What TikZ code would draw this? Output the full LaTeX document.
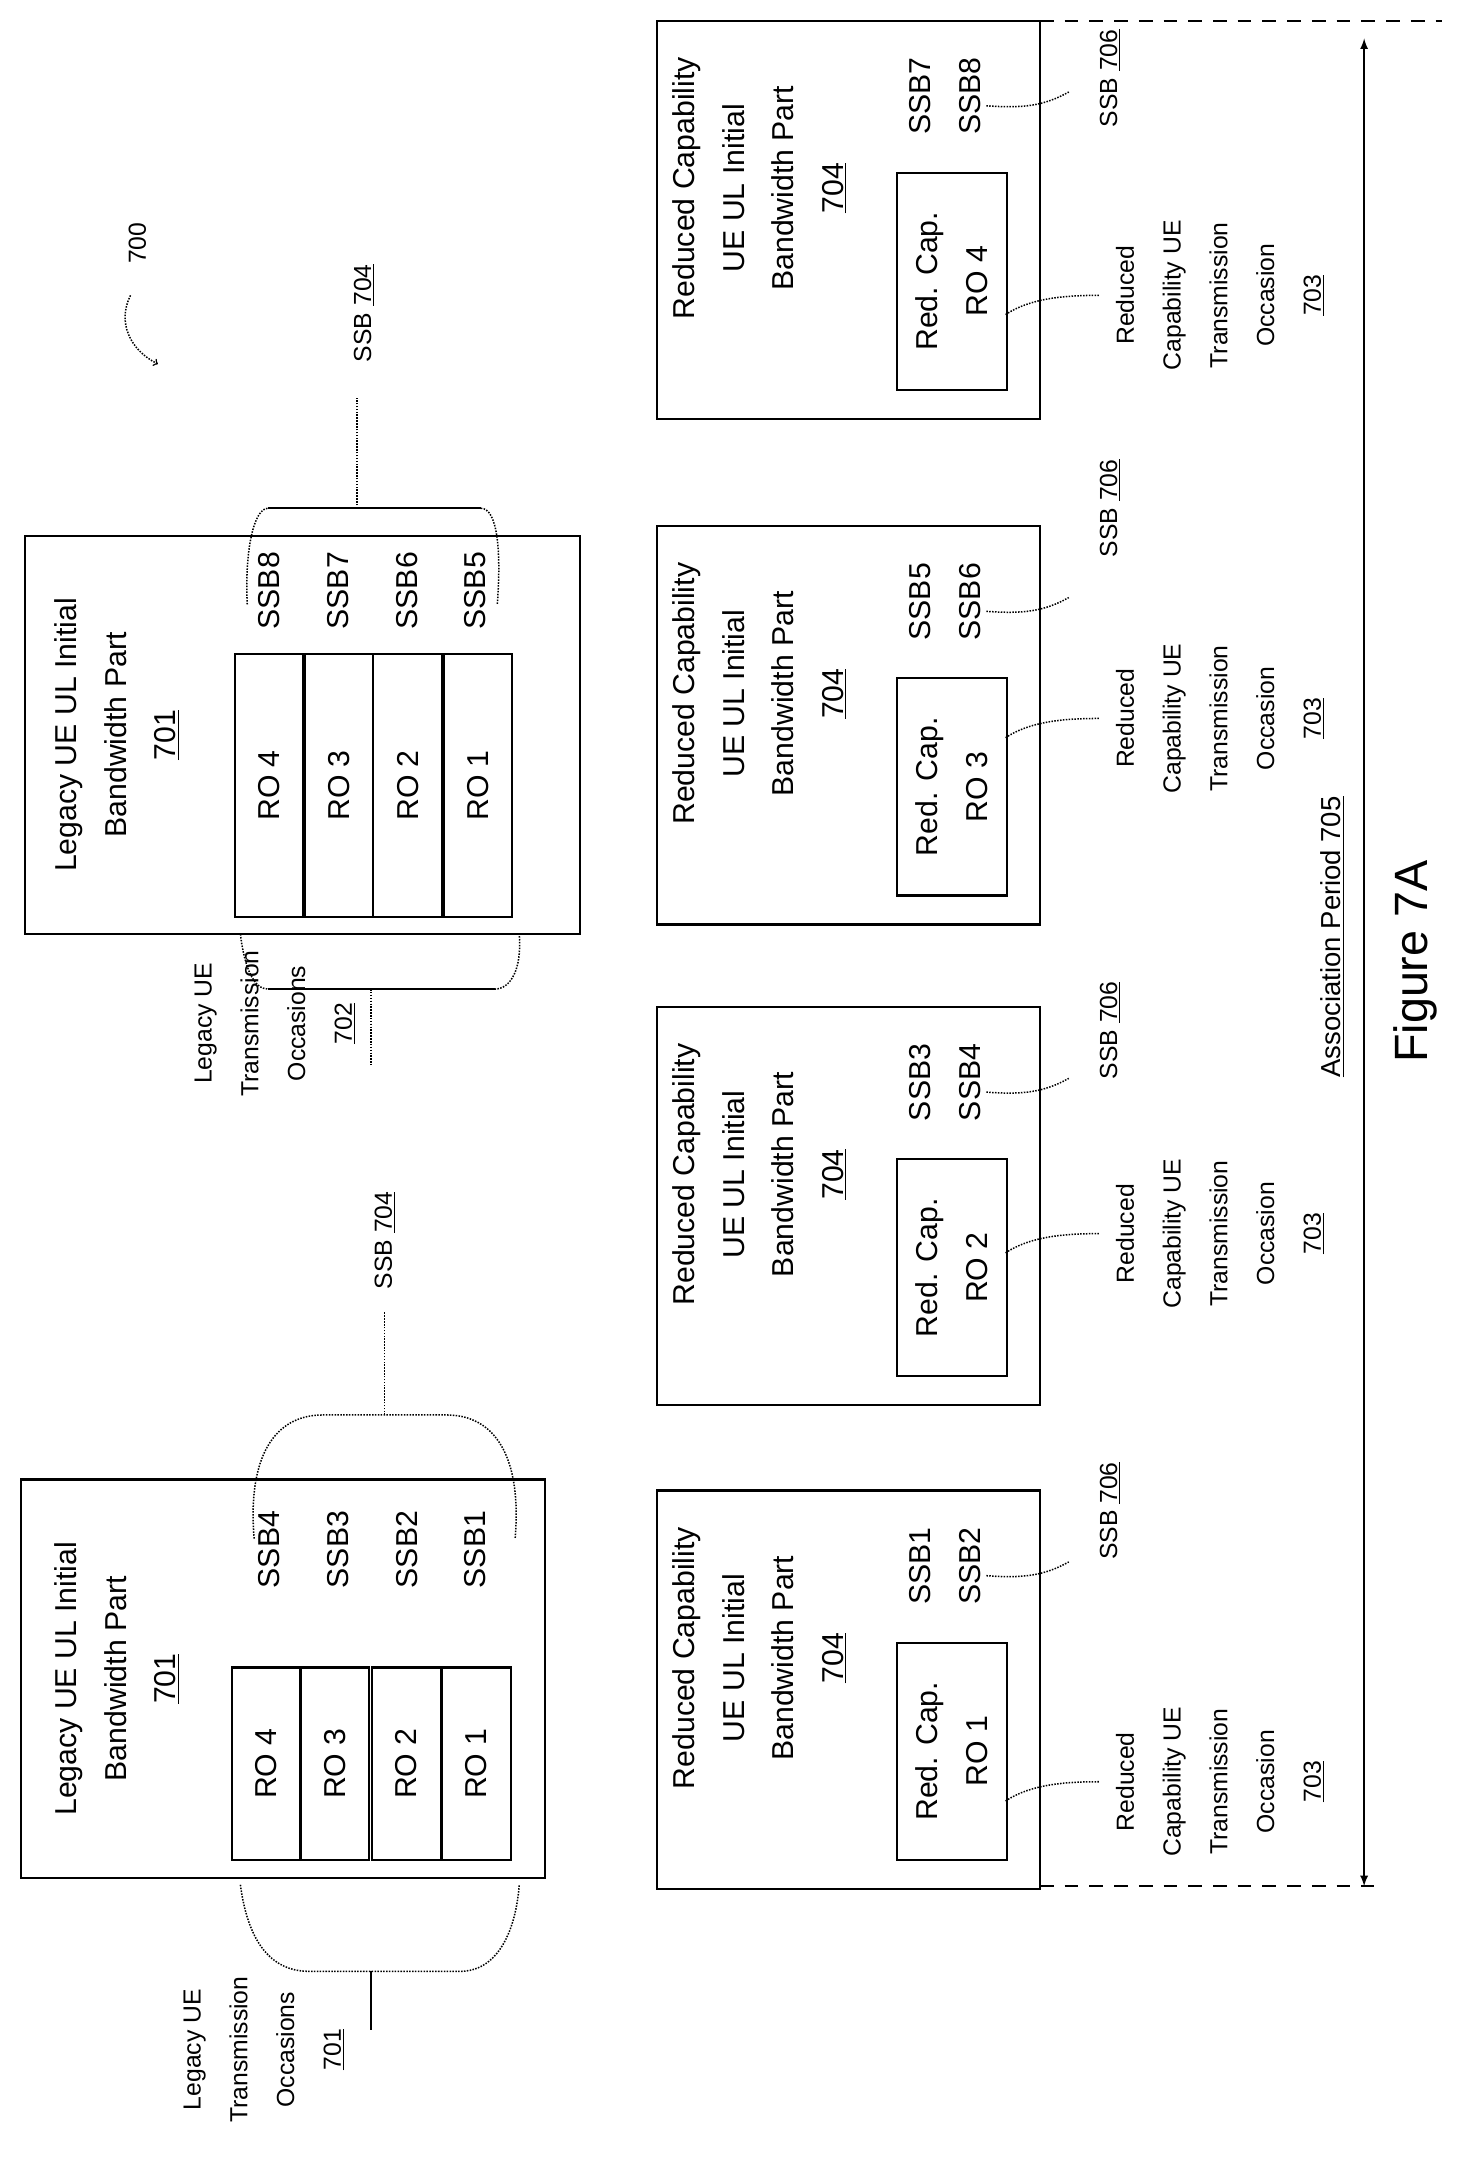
\documentclass[tikz,border=0pt]{standalone}
\usepackage{fontspec}
\setmainfont{Liberation Sans}
\begin{document}
\begin{tikzpicture}[x=1pt,y=-1pt,
  txt/.style={rotate=90,align=center,inner sep=0pt,font=\fontsize{22}{36}\selectfont},
  sml/.style={rotate=90,align=center,inner sep=0pt,font=\fontsize{18}{34}\selectfont},
  box/.style={draw,line width=1.6pt},
  ld/.style={densely dotted,line width=1.1pt},
  every node/.append style={text=black}]
\useasboundingbox (0,0) rectangle (1070,1576);
% Legacy box 1
\draw[box] (15,1077) rectangle (397,1367);
\node[txt] (L1t) at (85,1222) {Legacy UE UL Initial\\Bandwidth Part\\\underline{701}};
\foreach \i/\x/\n in {1/168/4,2/218/3,3/270/2,4/321/1}{
  \node[draw,line width=1.6pt,minimum width=50pt,minimum height=140pt,anchor=north west,inner sep=0pt] (L1r\i) at (\x,1213) {};
  \node[txt] at (L1r\i.center) {RO \n};}
\foreach \i/\x/\n in {1/196/4,2/246/3,3/296/2,4/346/1}
  \node[txt] (L1s\i) at (\x,1128) {SSB\n};
\draw[ld] (185,1120) .. controls (180,1060) and (200,1030) .. (235,1030) -- (325,1030) .. controls (360,1030) and (380,1060) .. (375,1120);
\coordinate (L1top) at (280,1030);
\node[sml] (L1ssb) at (280,903) {SSB \underline{704}};
\draw[ld] (L1top) -- (280,955);
\draw[ld] (175,1372) .. controls (180,1410) and (195,1435) .. (225,1435) -- (335,1435) .. controls (360,1435) and (375,1410) .. (378,1372);
\draw[line width=1.2pt] (270,1435) -- (270,1478);
\node[txt,font=\fontsize{18}{34}\selectfont] (L1o) at (192,1492) {Legacy UE\\Transmission\\Occasions\\\underline{701}};
% Legacy box 2
\draw[box] (18,390) rectangle (422,680);
\node[txt] (L2t) at (85,535) {Legacy UE UL Initial\\Bandwidth Part\\\underline{701}};
\foreach \i/\x/\n in {1/170/4,2/221/3,3/271/2,4/322/1}{
  \node[draw,line width=1.6pt,minimum width=50pt,minimum height=192pt,anchor=north west,inner sep=0pt] (L2r\i) at (\x,475) {};
  \node[txt] at (L2r\i.center) {RO \n};}
\foreach \i/\x/\n in {1/196/8,2/246/7,3/296/6,4/346/5}
  \node[txt] (L2s\i) at (\x,430) {SSB\n};
\draw[ld] (180,440) .. controls (178,400) and (185,370) .. (195,370);
\draw[line width=1.4pt] (195,370) -- (350,370);
\draw[ld] (350,370) .. controls (362,370) and (365,400) .. (362,440);
\draw[ld] (260,370) -- (260,290);
\node[sml] (L2ssb) at (265,228) {SSB \underline{704}};
\draw[ld] (175,680) .. controls (178,705) and (185,720) .. (195,720);
\draw[line width=1.4pt] (195,720) -- (360,720);
\draw[ld] (360,720) .. controls (372,720) and (380,705) .. (378,680);
\draw[ld] (270,720) -- (270,775);
\node[txt,font=\fontsize{18}{34}\selectfont] (L2o) at (200,745) {Legacy UE\\Transmission\\Occasions\\\underline{702}};
% 700
\node[sml] (n700) at (100,177) {700};
\draw[ld,->] (95,215) .. controls (85,235) and (95,255) .. (115,265);
% Reduced capability boxes
\foreach \t/\a/\b/\r/\k/\sl/\ol in {1085/1/2/1/A/15/212,733/3/4/2/B/17/165,383/5/6/3/C/-13/140,15/7/8/4/D/42/200}{
  \draw[box] (478,\t) rectangle (757,\t+290);
  \node[txt] (R\k t) at (553,\t+122) {Reduced Capability\\UE UL Initial\\Bandwidth Part\\\underline{704}};
  \node[draw,line width=1.6pt,minimum width=80pt,minimum height=158pt,anchor=north west,inner sep=0pt] (R\k r) at (652,\t+110) {};
  \node[txt] at (R\k r.center) {Red. Cap.\\RO \r};
  \node[txt] (R\k s) at (688,\t+55) {SSB\a\\SSB\b};
  \draw[ld] (718,\t+62) .. controls (745,\t+64) and (760,\t+62) .. (778,\t+52);
  \node[sml] (R\k l) at (808,\t+\sl) {SSB \underline{706}};
  \draw[ld] (732,\t+\ol+14) .. controls (750,\t+\ol+2) and (775,\t+\ol) .. (800,\t+\ol);
  \node[txt,font=\fontsize{18}{34}\selectfont] (R\k o) at (888,\t+\ol) {Reduced\\Capability UE\\Transmission\\Occasion\\\underline{703}};
}
% association period
\draw[line width=1.6pt,dash pattern=on 10pt off 8pt] (757,15) -- (1050,15);
\draw[line width=1.6pt,dash pattern=on 10pt off 8pt] (757,1373) -- (1000,1373);
\coordinate (aT) at (993,28); \coordinate (aB) at (993,1373);
\draw[line width=1.6pt,<->,>=latex] (aT) -- (aB);
\node[sml,font=\fontsize{20}{34}\selectfont] (assoc) at (970,682) {\underline{Association Period 705}};
\node[rotate=90,inner sep=0pt,font=\fontsize{34}{40}\selectfont] (fig) at (1030,700) {Figure 7A};
\end{tikzpicture}
\end{document}
